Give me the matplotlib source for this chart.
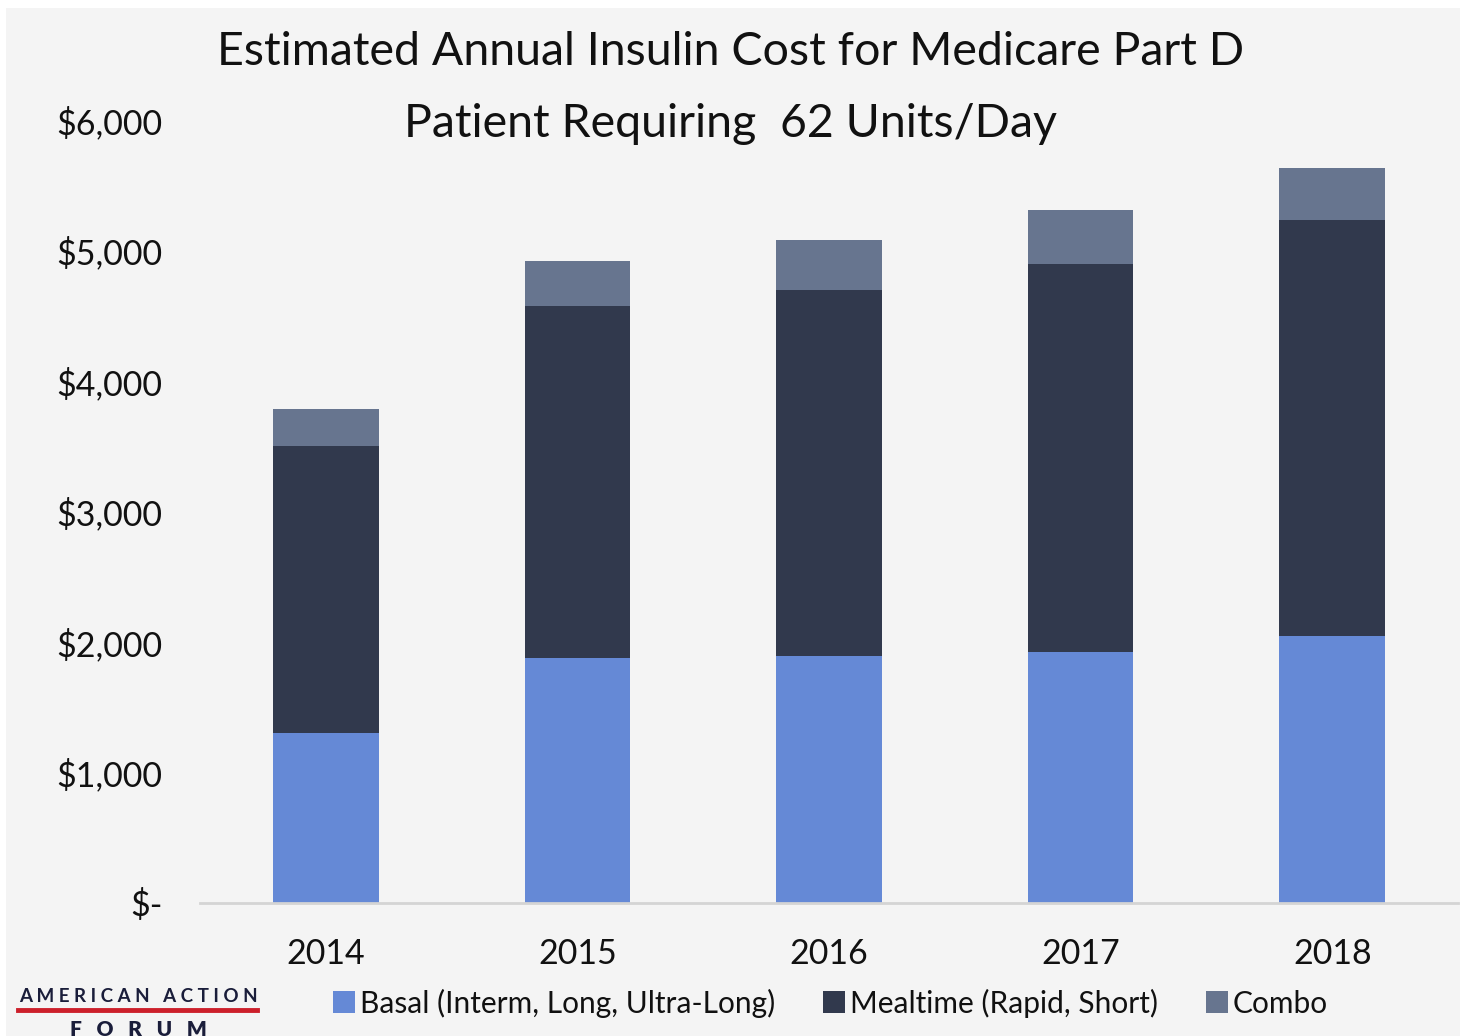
import matplotlib.pyplot as plt
from matplotlib.patches import Rectangle
from matplotlib.lines import Line2D
import numpy as np

years = ['2014', '2015', '2016', '2017', '2018']
basal = [1300, 1880, 1895, 1925, 2045]
mealtime = [2200, 2695, 2805, 2975, 3190]
combo = [285, 345, 380, 410, 400]
labels = ['Basal (Interm, Long, Ultra-Long)', 'Mealtime (Rapid, Short)', 'Combo']
colors = ['#6589d6', '#31394d', '#67758f']
yticks = [0, 1000, 2000, 3000, 4000, 5000, 6000]
yticklabels = ['$-', '$1,000', '$2,000', '$3,000', '$4,000', '$5,000', '$6,000']

plt.rcParams['font.family'] = ['Lato', 'DejaVu Sans']

fig = plt.figure(figsize=(14.6, 10.36), dpi=100, facecolor='white')
bg = Rectangle((6/1460, 0), 1 - 6/1460, 1 - 8/1036, transform=fig.transFigure,
               facecolor='#f4f4f4', edgecolor='none', zorder=-10)
fig.patches.append(bg)

ax = fig.add_axes([200/1460, 1 - 903/1036, 1258/1460, (903 - 120)/1036])
ax.set_facecolor('none')

x = np.arange(len(years))
w = 0.42
bottom = np.zeros(len(years))
for vals, c, lab in zip([basal, mealtime, combo], colors, labels):
    ax.bar(x, vals, w, bottom=bottom, color=c, label=lab, edgecolor='none')
    bottom += np.array(vals)

ax.set_xlim(-0.5, 4.5)
ax.set_ylim(0, 6000)
ax.set_yticks(yticks)
ax.set_yticklabels(yticklabels)
ax.set_xticks(x)
ax.set_xticklabels(years)
ax.tick_params(axis='y', length=0, pad=27, labelsize=24.5, labelcolor='#111111')
ax.tick_params(axis='x', length=0, pad=25, labelsize=24.5, labelcolor='#111111')
for s in ['top', 'right', 'left']:
    ax.spines[s].set_visible(False)
ax.spines['bottom'].set_color('#d4d4d4')
ax.spines['bottom'].set_linewidth(2)

fig.text(731/1460, 1 - 88/1036, 'Estimated Annual Insulin Cost for Medicare Part D\nPatient Requiring  62 Units/Day',
         ha='center', va='center', fontsize=33.5, color='#111111', linespacing=1.9)

ax.legend(loc='center left', bbox_to_anchor=((333 - 200)/1258, (903 - 1003)/783), ncol=3,
          frameon=False, fontsize=21.5, handlelength=0.75, handleheight=0.75,
          handletextpad=0.15, columnspacing=1.6, borderpad=0, borderaxespad=0,
          labelcolor='#111111')

# logo
fig.text(138/1460, 1 - 997/1036, 'A M E R I C A N   A C T I O N', ha='center', va='center',
         fontsize=13.5, fontweight='bold', color='#1a1d3a')
fig.add_artist(Line2D([18/1460, 257/1460], [1 - 1010/1036, 1 - 1010/1036],
                      color='#cc1f2a', linewidth=3.5, transform=fig.transFigure))
fig.text(138/1460, 1 - 1029/1036, 'F   O   R   U   M', ha='center', va='center',
         fontsize=15, fontweight='heavy', color='#1a1d3a')

fig.savefig('out.png', dpi=100, facecolor=fig.get_facecolor())
